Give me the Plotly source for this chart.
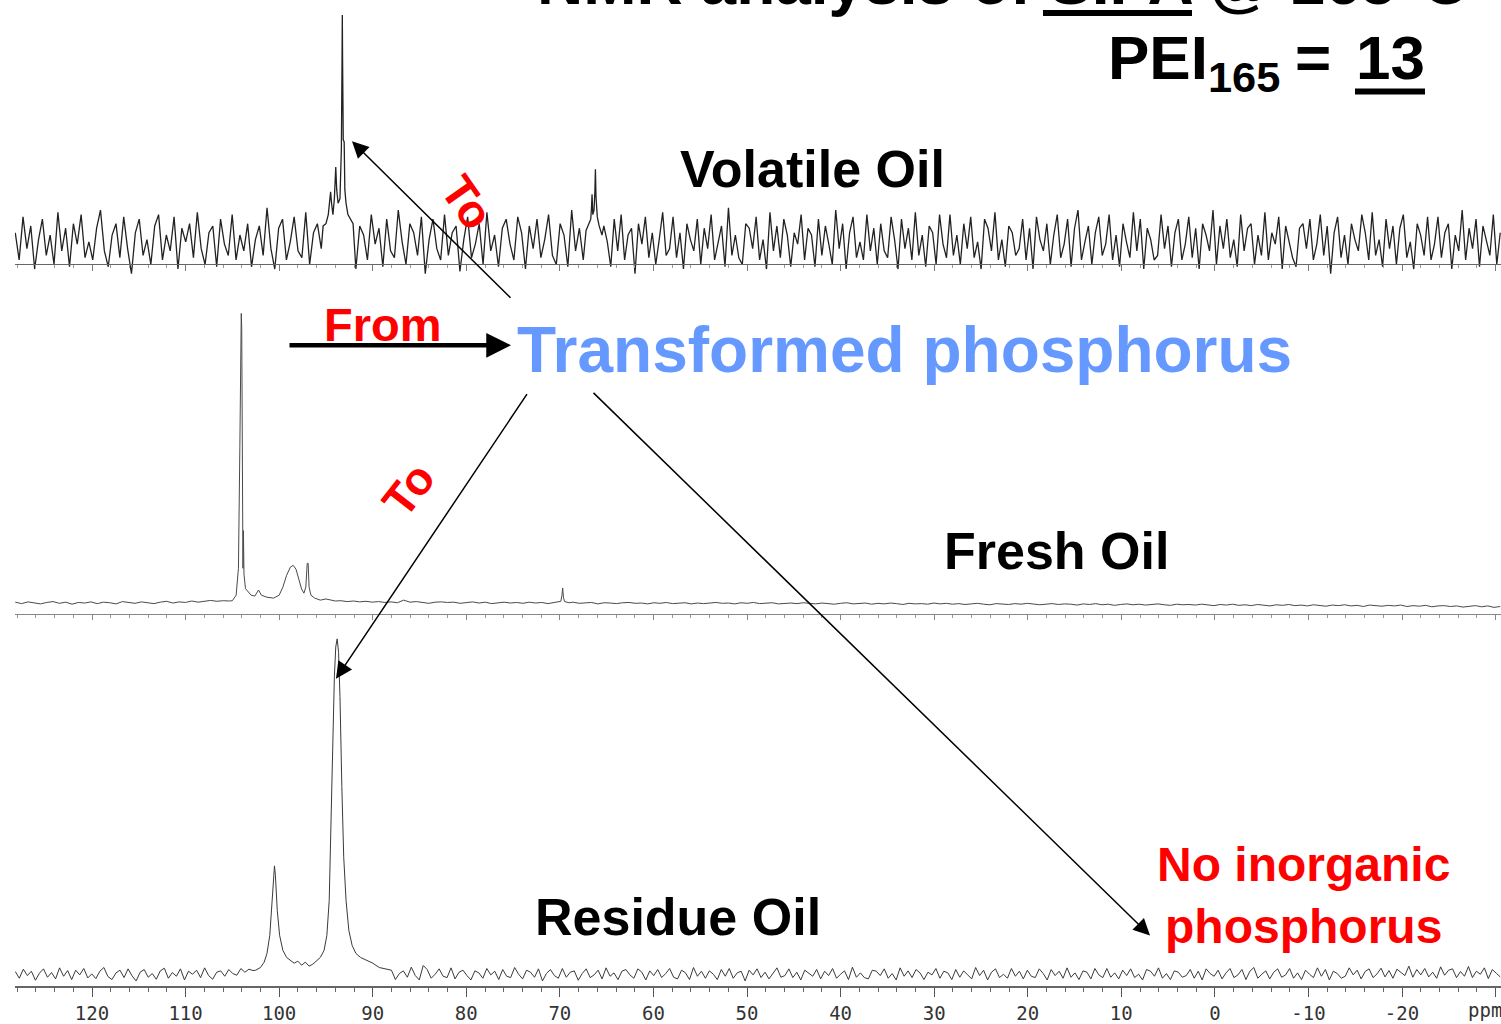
import numpy as np
import plotly.graph_objects as go

# ---------------- DATA ----------------
PPM_LEFT, PPM_RIGHT = 128.23, -30.58
MAJOR_TICKS = [120, 110, 100, 90, 80, 70, 60, 50, 40, 30, 20, 10, 0, -10, -20, -30]
MAJOR_TEXT = ["120", "110", "100", "90", "80", "70", "60", "50", "40", "30", "20", "10", "0", "-10", "-20", ""]
MINOR_TICKS = [v for v in range(128, -31, -2) if v % 10 != 0]

# Volatile oil (intensity, tallest peak = 100)
vol_noise_a_span = (128.2, 95.5)
vol_noise_a = [4,-8,11,-3,7,-12,1,10,-6,3,-10,13,-4,6,-11,8,-1,12,-7,0,
               -8,6,14,-4,-11,3,8,-7,11,-3,-14,4,10,-6,1,-10,7,12,-8,3,
               -4,11,-12,6,0,8,-7,13,-3,-10,4,7,-11,10,-1,-6,12,-8,3,-4,
               8,-11,1,7,-6,15,-3,-12,6,10,-8,0,11,-4,-7,13,-10,4,8,-3]
vol_peak1_ppm = [95.3, 95.0, 94.75, 94.6, 94.5, 94.4, 94.25, 94.1, 94.0, 93.95, 93.85, 93.7,
                 93.5, 93.35, 93.28, 93.25, 93.22, 93.15, 93.05, 92.98, 92.85, 92.65, 92.4, 92.1]
vol_peak1_int = [7, 8, 12, 19, 22, 17, 12, 19, 30, 33, 23, 17, 19, 41, 80, 100, 80, 45, 44, 23, 17, 12, 10, 8]
vol_noise_b_span = (91.8, 67.5)
vol_noise_b = [-12,7,3,-8,12,-1,6,-11,10,-4,-7,14,0,-10,8,4,-6,11,-14,1,
               10,-3,-8,12,-6,4,7,-13,1,11,-7,-1,8,-10,13,-4,3,-11,6,10,
               -1,-8,11,4,-12,7,-3,10,-7,1,12,-6,-10,8,3,-11,14,-4,6,-8]
vol_peak2_ppm = [67.2, 66.9, 66.7, 66.62, 66.56, 66.48, 66.35, 66.26, 66.2, 66.14, 66.0, 65.8, 65.5]
vol_peak2_int = [5, 8, 10, 15, 21, 12, 14, 22, 32, 20, 11, 7, 3]
vol_noise_c_span = (65.3, -30.5)
vol_noise_c = [7,0,-11,10,-4,12,-8,3,6,-14,8,-1,11,-7,4,-10,1,13,-6,-3,
               11,-7,4,-12,8,1,-4,10,-10,6,-3,12,-8,0,7,-11,15,-6,3,-7,
               -10,8,6,-3,11,-8,1,-12,13,-4,7,-7,10,3,-11,4,-1,12,-8,6,
               3,-11,10,-6,7,-1,-10,14,-3,8,-12,4,11,-7,0,-8,12,-4,6,-10,
               8,-4,-7,11,1,-12,10,-3,6,-8,13,-6,3,-11,7,4,-10,12,-1,-7,
               12,-6,3,-10,8,-3,11,-7,0,-12,10,6,-4,13,-8,1,-11,7,4,-6,
               -3,10,-8,6,-12,11,1,-4,8,-10,3,12,-7,-1,10,-11,6,14,-8,0,
               7,-10,4,11,-6,-1,12,-8,3,-11,8,0,-7,13,-4,10,-12,6,1,-8,
               -6,12,-3,7,-11,4,10,-8,-1,11,-7,6,-12,8,3,-4,14,-10,7,-3,
               10,-7,1,-11,12,-4,6,8,-10,3,-6,13,-8,4,-1,11,-12,7,0,-7,
               -11,6,8,-3,10,-8,-1,12,-6,7,-14,4,11,-7,3,-10,8,1,-4,12,
               4,-8,13,-6,1,-11,10,-3,7,-10,6,12,-7,0,-12,8,3,-6,11,-8,
               -1,11,-7,4,8,-12,3,-4,14,-8,6,-3,10,-11,7,1,-6,12,-10,4]

# Fresh oil
fresh_noise_a_span = (128.2, 105.3)
fresh_noise_a = [0.3,-0.2,0.4,0.1,-0.3,0.2,0.5,-0.1,0.3,-0.4,0.2,0.0,0.4,-0.2,0.3,0.1,-0.3,0.5,
                 0.2,-0.1,0.4,0.1,-0.2,0.3,0.6,0.0,0.4,0.2,0.7,0.3,0.5,0.9,0.6,0.8,0.7]
fresh_peak1_ppm = [105.0, 104.6, 104.35, 104.2, 104.1, 104.05, 104.0, 103.93, 103.87, 103.82, 103.76,
                   103.6, 103.3, 103.0, 102.6, 102.2, 101.9, 101.3, 100.6, 100.0, 99.6, 99.2, 98.8,
                   98.5, 98.2, 97.9, 97.6, 97.35, 97.15, 97.0, 96.9, 96.8, 96.6, 96.2, 95.6, 95.0, 94.0]
fresh_peak1_int = [0.8, 2.7, 12, 54, 98, 100, 95, 40, 12, 25, 10, 5, 3.8, 2.7, 2.4, 4.5, 2.7, 2.0,
                   1.7, 2.7, 5.5, 9.6, 12.4, 13, 11.7, 8.2, 4.8, 3.4, 5.5, 13.7, 13.7, 5.5, 2.7,
                   1.7, 1.0, 1.4, 0.7]
fresh_noise_b_span = (93.4, 70.6)
fresh_noise_b = [0.8,0.5,0.7,0.4,0.6,0.3,0.5,0.2,0.4,0.1,1.0,0.3,0.5,0.2,-0.1,0.3,0.4,0.2,
                 0.3,-0.1,0.2,0.4,0.0,0.3,-0.2,0.1,0.3,0.0,0.2,-0.1,0.3,0.0,0.2,-0.2,0.1]
fresh_peak2_ppm = [70.4, 69.9, 69.78, 69.7, 69.62, 69.5, 69.0]
fresh_peak2_int = [0.2, 0.6, 2.5, 5.2, 2.0, 0.5, 0.1]
fresh_noise_c_span = (68.6, -30.5)
fresh_noise_c = [0.3,-0.1,0.0,0.2,-0.3,0.1,0.0,-0.2,0.1,0.2,-0.1,0.0,-0.3,0.1,-0.1,0.2,-0.2,0.0,0.1,-0.3,
                 0.0,-0.2,0.1,0.2,-0.1,0.0,-0.3,0.1,-0.1,0.2,-0.2,0.0,0.1,-0.3,-0.1,0.0,-0.2,0.1,-0.1,-0.3,
                 0.0,-0.2,-0.4,-0.1,0.1,-0.3,-0.2,0.0,-0.4,-0.1,-0.3,0.0,-0.2,-0.5,-0.1,-0.3,-0.2,-0.4,0.0,-0.3,
                 -0.1,-0.4,-0.2,-0.5,-0.3,-0.1,-0.4,-0.6,-0.2,-0.3,-0.5,-0.2,-0.4,-0.1,-0.3,-0.6,-0.4,-0.2,-0.5,-0.3,
                 -0.4,-0.7,-0.3,-0.5,-0.2,-0.6,-0.4,-0.8,-0.5,-0.3,-0.6,-0.4,-0.7,-0.5,-0.3,-0.6,-0.8,-0.4,-0.6,-0.5,
                 -0.7,-0.4,-0.6,-0.9,-0.5,-0.7,-0.4,-0.8,-0.6,-0.9,-0.5,-0.7,-1.0,-0.6,-0.8,-0.5,-0.9,-0.7,-1.0,-0.6,
                 -0.8,-1.1,-0.7,-0.9,-0.6,-1.0,-0.8,-1.2,-0.7,-0.9,-1.1,-0.8,-1.0,-0.7,-1.2,-0.9,-1.1,-0.8,-1.3,-1.0,
                 -0.9,-1.2,-1.0,-1.4,-1.1,-0.9,-1.3,-1.0,-1.5,-1.2]

# Residue oil
res_noise_a_span = (128.2, 102.8)
res_noise_a = [0.8,-1.2,1.5,-0.4,0.9,-1.8,0.3,1.6,-0.9,0.5,-1.4,1.9,-0.6,1.1,-1.6,1.2,-0.2,1.7,-1.1,0.1,
               -1.3,0.9,2.0,-0.7,-1.6,0.4,1.2,-1.0,1.6,-0.5,-2.0,0.6,1.4,-0.9,0.2,-1.5,1.0,1.8,-1.2,0.5,
               -0.6,1.6,-1.7,0.9,0.0,1.2,-1.0,1.9,-0.4,-1.5,0.6,1.0,-0.6,1.4,0.2,-0.3,1.7,0.6,1.5,1.1]
res_peak_ppm = [102.5, 102.0, 101.6, 101.3, 101.0, 100.8, 100.6, 100.5, 100.4, 100.2, 99.95, 99.6, 99.2,
                98.8, 98.4, 98.0, 97.6, 97.2, 96.8, 96.4, 96.0, 95.6, 95.2, 94.9, 94.65, 94.45, 94.3,
                94.1, 93.95, 93.8, 93.65, 93.5, 93.3, 93.1, 92.85, 92.55, 92.2, 91.8, 91.3, 90.7, 90.0,
                89.3, 88.5]
res_peak_int = [1.2, 2.0, 3.6, 6.2, 11.6, 20.5, 30.9, 32.3, 29.4, 19.0, 11.6, 7.1, 5.0, 4.2, 3.3, 3.9,
                2.7, 3.6, 2.4, 3.0, 3.9, 5.0, 7.1, 11.6, 22.0, 47.0, 71.0, 88.7, 97.6, 100.0, 96.0, 82.8,
                56.0, 35.0, 22.0, 13.0, 8.6, 6.2, 5.0, 4.2, 3.3, 2.0, 1.5]
res_noise_b_span = (88.0, -30.5)
res_noise_b = [1.2,-1.6,0.2,1.0,-0.9,2.1,-0.4,-1.7,2.6,1.4,-1.2,0.0,1.6,-0.6,-1.0,1.9,-1.4,0.6,1.2,-0.4,
               -1.7,1.0,0.4,-1.2,1.7,-0.2,0.9,-1.6,1.4,-0.6,-1.0,2.0,0.0,-1.4,1.2,0.6,-0.9,1.6,-2.0,0.2,
               1.4,-0.4,-1.2,1.7,-0.9,0.6,1.0,-1.8,0.2,1.6,-1.0,-0.2,1.2,-1.4,1.9,-0.6,0.4,-1.6,0.9,1.4,
               -0.2,-1.2,1.6,0.6,-1.7,1.0,-0.4,1.4,-1.0,0.2,1.7,-0.9,-1.4,1.2,0.4,-1.6,2.0,-0.6,0.9,-1.2,
               1.0,0.0,-1.6,1.4,-0.6,1.7,-1.2,0.4,0.9,-2.0,1.2,-0.2,1.6,-1.0,0.6,-1.4,0.2,1.9,-0.9,-0.4,
               1.6,-1.0,0.6,-1.7,1.2,0.2,-0.6,1.4,-1.4,0.9,-0.4,1.7,-1.2,0.0,1.0,-1.6,2.1,-0.9,0.4,-1.0,
               -1.4,1.2,0.9,-0.4,1.6,-1.2,0.2,-1.7,1.9,-0.6,1.0,-1.0,1.4,0.4,-1.6,0.6,-0.2,1.7,-1.2,0.9,
               0.4,-1.6,1.4,-0.9,1.0,-0.2,-1.4,2.0,-0.4,1.2,-1.7,0.6,1.6,-1.0,0.0,-1.2,1.7,-0.6,0.9,-1.4,
               1.2,-0.6,-1.0,1.6,0.2,-1.7,1.4,-0.4,0.9,-1.2,1.9,-0.9,0.4,-1.6,1.0,0.6,-1.4,1.7,-0.2,-1.0,
               1.7,-0.9,0.4,-1.4,1.2,-0.4,1.6,-1.0,0.0,-1.7,1.4,0.9,-0.6,1.9,-1.2,0.2,-1.6,1.0,0.6,-0.9,
               -0.4,1.4,-1.2,0.9,-1.7,1.6,0.2,-0.6,1.2,-1.4,0.4,1.7,-1.0,-0.2,1.4,-1.6,0.9,2.0,-1.2,0.0,
               1.0,-1.4,0.6,1.6,-0.9,-0.2,1.7,-1.2,0.4,-1.6,1.2,0.0,-1.0,1.9,-0.6,1.4,-1.7,0.9,0.2,-1.2,
               -0.6,1.9,-0.2,1.2,-1.4,0.8,1.6,-1.0,0.1,1.8,-0.8,1.1,-1.2,1.5,0.6,-0.4,2.4,-0.9,1.4,-0.2,
               1.7,-0.8,0.6,-1.2,2.2,-0.3,1.2,1.6,-1.0,0.8,-0.6,2.3,-1.0,0.9,0.0,1.9,-1.3,1.4,0.3,-0.8]


# ---------------- BUILD ----------------
def noise_segment(span, vals):
    return list(np.linspace(span[0], span[1], len(vals))), list(vals)


def assemble(parts):
    xs, ys = [], []
    for px_, py_ in parts:
        xs.extend(px_)
        ys.extend(py_)
    return xs, ys


vol_x, vol_y = assemble([noise_segment(vol_noise_a_span, vol_noise_a),
                         (vol_peak1_ppm, vol_peak1_int),
                         noise_segment(vol_noise_b_span, vol_noise_b),
                         (vol_peak2_ppm, vol_peak2_int),
                         noise_segment(vol_noise_c_span, vol_noise_c)])
fresh_x, fresh_y = assemble([noise_segment(fresh_noise_a_span, fresh_noise_a),
                             (fresh_peak1_ppm, fresh_peak1_int),
                             noise_segment(fresh_noise_b_span, fresh_noise_b),
                             (fresh_peak2_ppm, fresh_peak2_int),
                             noise_segment(fresh_noise_c_span, fresh_noise_c)])
res_x, res_y = assemble([noise_segment(res_noise_a_span, res_noise_a),
                         (res_peak_ppm, res_peak_int),
                         noise_segment(res_noise_b_span, res_noise_b)])

W, H = 1501, 1024


def px(x):
    return x / W


def py(y):
    return 1 - y / H


fig = go.Figure()
fig.add_trace(go.Scatter(x=res_x, y=res_y, mode="lines", xaxis="x", yaxis="y",
                         line=dict(color="#3a3a3a", width=1), hoverinfo="skip"))
fig.add_trace(go.Scatter(x=fresh_x, y=fresh_y, mode="lines", xaxis="x2", yaxis="y2",
                         line=dict(color="#4a4a4a", width=1), hoverinfo="skip"))
fig.add_trace(go.Scatter(x=vol_x, y=vol_y, mode="lines", xaxis="x3", yaxis="y3",
                         line=dict(color="#222222", width=1.3), hoverinfo="skip"))

x_common = dict(range=[PPM_LEFT, PPM_RIGHT], domain=[px(15), 1], anchor="free",
                showgrid=False, zeroline=False, showline=True, ticks="outside",
                tickmode="array", tickvals=MAJOR_TICKS, fixedrange=True)

fig.update_layout(
    width=W, height=H, margin=dict(l=0, r=0, t=0, b=0),
    paper_bgcolor="white", plot_bgcolor="white", showlegend=False,
    xaxis=dict(**x_common, position=py(992), linecolor="#666", linewidth=2,
               ticklen=9, tickwidth=1.3, tickcolor="#555", ticktext=MAJOR_TEXT,
               tickfont=dict(family="DejaVu Sans Mono", size=19, color="#333"),
               minor=dict(tickvals=MINOR_TICKS, ticks="outside", ticklen=4,
                          tickcolor="#666", tickwidth=1)),
    xaxis2=dict(**x_common, position=py(617), linecolor="#888", linewidth=1,
                ticklen=5, tickwidth=1, tickcolor="#888", showticklabels=False,
                minor=dict(tickvals=MINOR_TICKS, ticks="outside", ticklen=3,
                           tickcolor="#999", tickwidth=1)),
    xaxis3=dict(**x_common, position=py(265), linecolor="#666", linewidth=1.2,
                ticklen=6, tickwidth=1, tickcolor="#777", showticklabels=False,
                minor=dict(tickvals=MINOR_TICKS, ticks="outside", ticklen=3,
                           tickcolor="#999", tickwidth=1)),
    yaxis=dict(domain=[py(1000), py(625)], range=[-6.23, 105.04], visible=False, fixedrange=True),
    yaxis2=dict(domain=[py(630), py(300)], range=[-8.25, 105.15], visible=False, fixedrange=True),
    yaxis3=dict(domain=[py(295), py(5)], range=[-22.8, 104.4], visible=False, fixedrange=True),
)

BOLD = "Liberation Sans"
ann = []


def text(x, y, s, size, color="black", xanchor="center", yanchor="middle", angle=0):
    ann.append(dict(x=px(x), y=py(y), xref="paper", yref="paper", text="<b>" + s + "</b>",
                    showarrow=False, xanchor=xanchor, yanchor=yanchor, textangle=angle,
                    font=dict(family=BOLD, size=size, color=color)))


def arrow(hx, hy, tx, ty, width=1.5, size=2.2):
    ann.append(dict(x=px(hx), y=py(hy), xref="paper", yref="paper", text="",
                    showarrow=True, ax=tx - hx, ay=ty - hy, arrowhead=2,
                    arrowsize=size, arrowwidth=width, arrowcolor="black", standoff=0))


text(1470, 20, "NMR analysis of SIPA @ 165°C", 64, xanchor="right", yanchor="bottom")
text(1106, 62, "PEI<sub>165</sub>", 62, xanchor="left")
text(1313, 58, "=", 62)
text(1390, 58, "13", 62)
text(812, 170, "Volatile Oil", 52)
text(1056, 554, "Fresh Oil", 52)
text(678, 922, "Residue Oil", 52)
text(904, 352, "Transformed phosphorus", 64, color="#6699FF")
text(383, 326, "From", 47, color="#FF0000")
text(467, 203, "To", 46, color="#FF0000", angle=55)
text(408, 492, "To", 46, color="#FF0000", angle=-52)
text(1303, 900, "No inorganic<br>phosphorus", 48, color="#FF0000")

arrow(352, 142, 512, 300)
arrow(336, 682, 528, 396)
arrow(1150, 940, 592, 396)
arrow(511, 347, 288, 347, width=4.5, size=1.1)

ann.append(dict(x=px(1466), y=py(1015), xref="paper", yref="paper", text="ppm",
                showarrow=False, xanchor="left", yanchor="middle",
                font=dict(family="DejaVu Sans Mono", size=19, color="#333")))

fig.update_layout(annotations=ann)

fig.add_shape(type="rect", xref="paper", yref="paper", x0=px(1043), x1=px(1192),
              y0=py(16), y1=py(10), fillcolor="black", line=dict(width=0))
fig.add_shape(type="rect", xref="paper", yref="paper", x0=px(1355), x1=px(1425),
              y0=py(95), y1=py(89), fillcolor="black", line=dict(width=0))

fig.write_html("out.html")
